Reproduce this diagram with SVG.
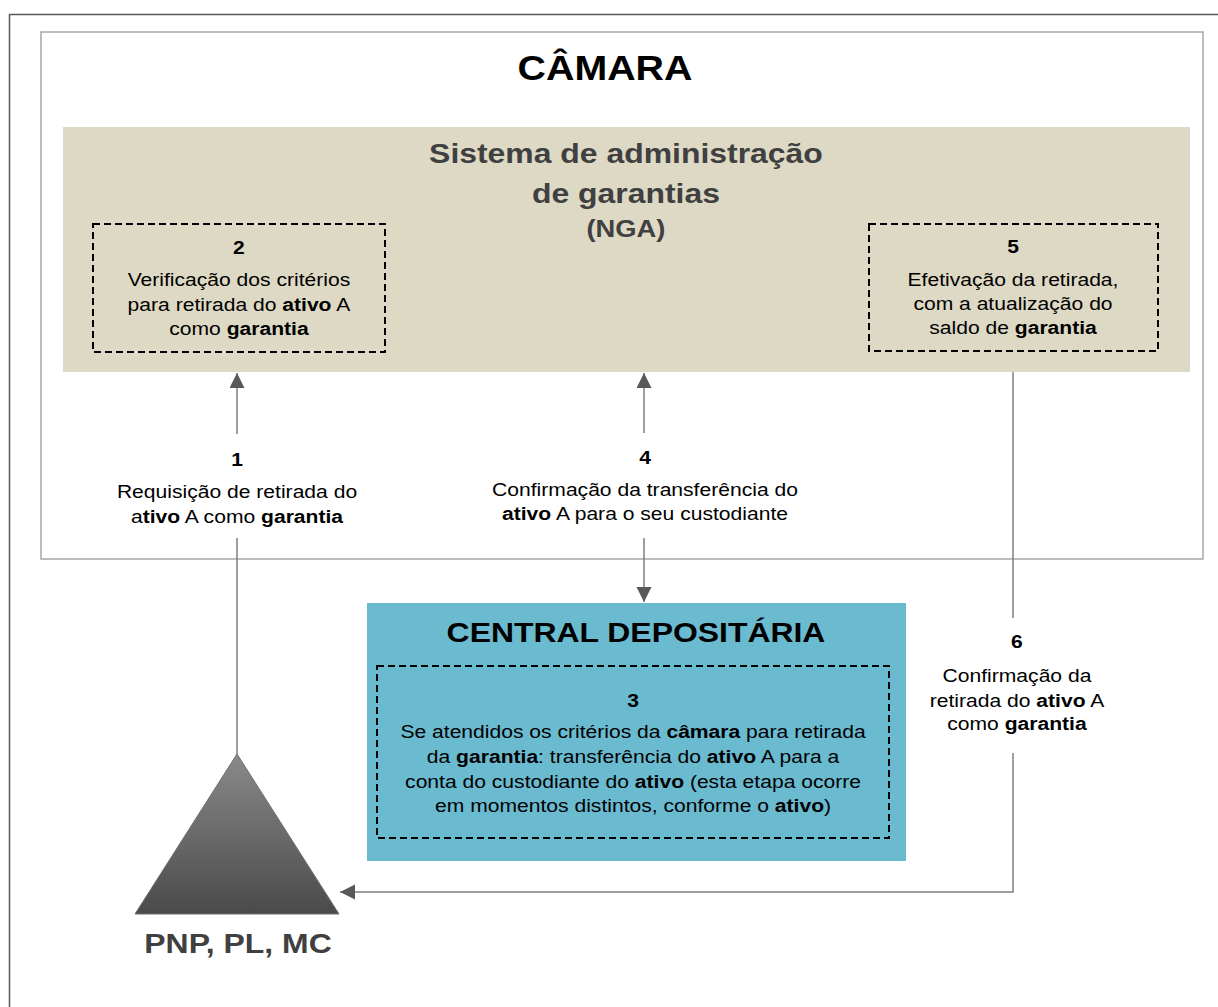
<svg xmlns="http://www.w3.org/2000/svg" width="1218" height="1007" viewBox="0 0 1218 1007">
<style>
text{font-family:"Liberation Sans",Arial,sans-serif;text-anchor:middle;fill:#000}
.b{font-weight:bold}
.body{font-size:18.5px}
.dash{fill:none;stroke:#000;stroke-width:2;stroke-dasharray:7 4}
.conn{fill:none;stroke:#7F7F7F;stroke-width:1.5}
.gray{fill:#404040}
</style>
<defs>
<marker id="ah" markerUnits="userSpaceOnUse" markerWidth="16" markerHeight="16" refX="15" refY="7.5" orient="auto">
<path d="M0,0 L15,7.5 L0,15 z" fill="#595959"/>
</marker>
<linearGradient id="tri" x1="0" y1="0" x2="0" y2="1">
<stop offset="0" stop-color="#8A8A8A"/>
<stop offset="1" stop-color="#4A4A4A"/>
</linearGradient>
</defs>
<rect x="0" y="0" width="1218" height="1007" fill="#fff"/>
<rect id="frame" x="9.5" y="14.5" width="1220" height="1010" fill="none" stroke="#595959" stroke-width="1.5"/>

<g id="camara">
<rect x="41" y="32" width="1162" height="527" fill="#fff" stroke="#A6A6A6" stroke-width="1.5"/>
<g transform="scale(1.14 1)"><text class="b" x="530.7" y="80" font-size="34.5">CÂMARA</text></g>
</g>

<g id="nga">
<rect x="63" y="127" width="1127" height="245" fill="#DDD9C4"/>
<g transform="scale(1.14 1)">
<text class="b gray" x="549.1" y="163" font-size="28">Sistema de administração</text>
<text class="b gray" x="549.1" y="203" font-size="28">de garantias</text>
<text class="b gray" x="549.1" y="237" font-size="24">(NGA)</text>
</g>
</g>

<g id="step2">
<rect class="dash" x="93" y="224" width="292" height="128"/>
<g transform="scale(1.14 1)" class="body">
<text class="b" x="209.6" y="254">2</text>
<text x="209.6" y="286">Verificação dos critérios</text>
<text x="209.6" y="311">para retirada do <tspan class="b">ativo</tspan> A</text>
<text x="209.6" y="335">como <tspan class="b">garantia</tspan></text>
</g>
</g>

<g id="step5">
<rect class="dash" x="869" y="224" width="289" height="127"/>
<g transform="scale(1.14 1)" class="body">
<text class="b" x="888.6" y="253">5</text>
<text x="888.6" y="286">Efetivação da retirada,</text>
<text x="888.6" y="310">com a atualização do</text>
<text x="888.6" y="334">saldo de <tspan class="b">garantia</tspan></text>
</g>
</g>

<g id="central">
<rect x="367" y="603" width="539" height="258" fill="#6ABAD0"/>
<g transform="scale(1.14 1)"><text class="b" x="557.9" y="642" font-size="28">CENTRAL DEPOSITÁRIA</text></g>
</g>

<g id="step3">
<rect class="dash" x="377" y="666" width="512" height="172"/>
<g transform="scale(1.14 1)" class="body">
<text class="b" x="555.3" y="707">3</text>
<text x="555.3" y="738">Se atendidos os critérios da <tspan class="b">câmara</tspan> para retirada</text>
<text x="555.3" y="763">da <tspan class="b">garantia</tspan>: transferência do <tspan class="b">ativo</tspan> A para a</text>
<text x="555.3" y="788">conta do custodiante do <tspan class="b">ativo</tspan> (esta etapa ocorre</text>
<text x="555.3" y="812">em momentos distintos, conforme o <tspan class="b">ativo</tspan>)</text>
</g>
</g>

<g id="participants">
<polygon points="237,754 339,914 135,914" fill="url(#tri)" stroke="#6E6E6E" stroke-width="1"/>
<g transform="scale(1.14 1)"><text class="b gray" x="208.8" y="953" font-size="28">PNP, PL, MC</text></g>
</g>

<g id="connectors">
<path class="conn" d="M237,754 V538"/>
<path class="conn" d="M237,434 V373" marker-end="url(#ah)"/>
<path class="conn" d="M644,433 V373" marker-end="url(#ah)"/>
<path class="conn" d="M644,538 V602" marker-end="url(#ah)"/>
<path class="conn" d="M1013,372 V618"/>
<path class="conn" d="M1013,753 V892 H340" marker-end="url(#ah)"/>
</g>

<g id="labels" class="body">
<g id="label1" transform="scale(1.14 1)">
<text class="b" x="207.9" y="466">1</text>
<text x="207.9" y="498">Requisição de retirada do</text>
<text x="207.9" y="523">a<tspan class="b">tivo</tspan> A como <tspan class="b">garantia</tspan></text>
</g>
<g id="label4" transform="scale(1.14 1)">
<text class="b" x="565.8" y="464">4</text>
<text x="565.8" y="496">Confirmação da transferência do</text>
<text x="565.8" y="520"><tspan class="b">ativo</tspan> A para o seu custodiante</text>
</g>
<g id="label6" transform="scale(1.14 1)">
<text class="b" x="892.1" y="648">6</text>
<text x="892.1" y="682">Confirmação da</text>
<text x="892.1" y="707">retirada do <tspan class="b">ativo</tspan> A</text>
<text x="892.1" y="730">como <tspan class="b">garantia</tspan></text>
</g>
</g>
</svg>
